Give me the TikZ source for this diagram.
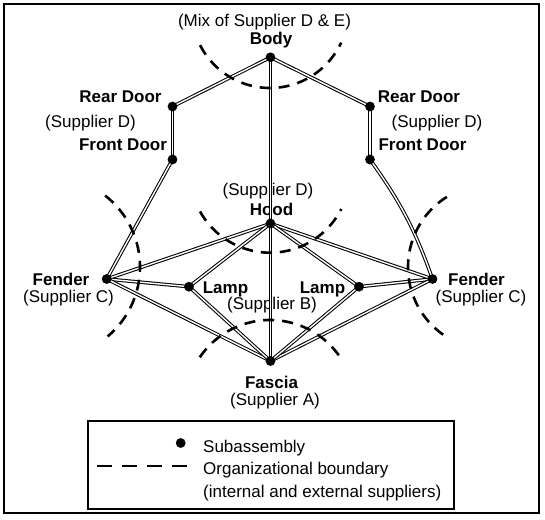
\documentclass[tikz,border=0pt]{standalone}
\usepackage{fontspec}
\setmainfont{Liberation Sans}
\begin{document}
\begin{tikzpicture}[x=1pt,y=-1pt,
  link/.style={draw=black, double=white, double distance=1.4pt, line width=1.05pt},
  dot/.style={circle, fill=black, inner sep=0pt, minimum size=9.8pt},
  bound/.style={line width=2.6pt, dash pattern=on 11pt off 8pt},
  lbl/.style={anchor=base, inner sep=0pt, font=\fontsize{17}{20}\selectfont},
  blbl/.style={anchor=base, inner sep=0pt, font=\fontsize{17}{20}\selectfont\bfseries},
  legtxt/.style={anchor=base west, inner sep=0pt, font=\fontsize{17}{20}\selectfont},
  frame/.style={line width=1.3pt}]
\useasboundingbox (0,0) rectangle (545,519);
% frame and legend box
\draw[frame] (4,4) rectangle (539,513);
\draw[frame] (88,421) rectangle (454,509);

% labels
\node[lbl]  (tmix)  at (264.5,27) {(Mix of Supplier D \& E)};
\node[blbl] (tbody) at (271,45) {Body};
\node[blbl] (trdl)  at (120.5,102) {Rear Door};
\node[lbl]  (tsdl)  at (90.5,127) {(Supplier D)};
\node[blbl] (tfdl)  at (123,150) {Front Door};
\node[blbl] (trdr)  at (419,102) {Rear Door};
\node[lbl]  (tsdr)  at (437,127) {(Supplier D)};
\node[blbl] (tfdr)  at (422.5,150) {Front Door};
\node[lbl]  (tsdh)  at (268,195) {(Supplier D)};
\node[blbl] (thood) at (271.5,215) {Hood};
\node[blbl] (tlpl)  at (225.5,293) {Lamp};
\node[blbl] (tlpr)  at (322.5,293) {Lamp};
\node[lbl]  (tsb)   at (272,309.5) {(Supplier B)};
\node[blbl] (tfas)  at (271.5,388) {Fascia};
\node[lbl]  (tsa)   at (275,405) {(Supplier A)};
\node[blbl] (tfl)   at (61,285) {Fender};
\node[lbl]  (tscl)  at (68.5,302.7) {(Supplier C)};
\node[blbl] (tfr)   at (476.5,285) {Fender};
\node[lbl]  (tscr)  at (481,302.7) {(Supplier C)};

% subassembly points
\coordinate (body) at (270.5,57.3);
\coordinate (rdl)  at (172.5,106.5);
\coordinate (fdl)  at (172.5,159.5);
\coordinate (rdr)  at (370,106.5);
\coordinate (fdr)  at (370,159.5);
\coordinate (hood) at (270.5,223.5);
\coordinate (fl)   at (106.7,279);
\coordinate (fr)   at (432.5,279);
\coordinate (lpl)  at (189,286.7);
\coordinate (lpr)  at (359,286.7);
\coordinate (fas)  at (270.5,361);

% connections
\draw[link] (body) -- (rdl);
\draw[link] (body) -- (rdr);
\draw[link] (rdl) -- (fdl);
\draw[link] (rdr) -- (fdr);
\draw[link] (fdl) -- (fl);
\draw[link] (fdr) to[bend left=8] (fr);
\draw[link] (body) -- (hood);
\draw[link] (hood) -- (fas);
\draw[link] (hood) -- (fl);
\draw[link] (hood) -- (fr);
\draw[link] (hood) -- (lpl);
\draw[link] (hood) -- (lpr);
\draw[link] (fl) -- (lpl);
\draw[link] (fr) -- (lpr);
\draw[link] (fl) -- (fas);
\draw[link] (fr) -- (fas);
\draw[link] (lpl) -- (fas);
\draw[link] (lpr) -- (fas);

% dots
\foreach \p in {body,rdl,fdl,rdr,fdr,hood,fl,fr,lpl,lpr,fas}
  \node[dot] (d\p) at (\p) {};

% organizational boundaries
\draw[bound] plot[domain=153:25, samples=60] ({270+78.5*cos(\x)},{9.5+78.5*sin(\x)});
\draw[bound] plot[domain=151:27, samples=60] ({270+80*cos(\x)},{172.7+80*sin(\x)});
\draw[bound] plot[domain=214:328, samples=60] ({270+84.7*cos(\x)},{404.7+84.7*sin(\x)});
\draw[bound] plot[domain=-52:50, samples=60] ({49.4+90.6*cos(\x)},{267+90.6*sin(\x)});
\draw[bound] plot[domain=238:123, samples=60] ({490.7+82.7*cos(\x)},{267+82.7*sin(\x)});

% legend
\node[dot] (legdot) at (180.7,443) {};
\coordinate (legdashA) at (97,466);
\coordinate (legdashB) at (187,466);
\draw[line width=2.8pt, dash pattern=on 15pt off 10pt] (legdashA) -- (legdashB);
\node[legtxt] (leg1) at (203,452) {Subassembly};
\node[legtxt] (leg2) at (203,474.5) {Organizational boundary};
\node[legtxt] (leg3) at (203,497) {(internal and external suppliers)};
\end{tikzpicture}
\end{document}
